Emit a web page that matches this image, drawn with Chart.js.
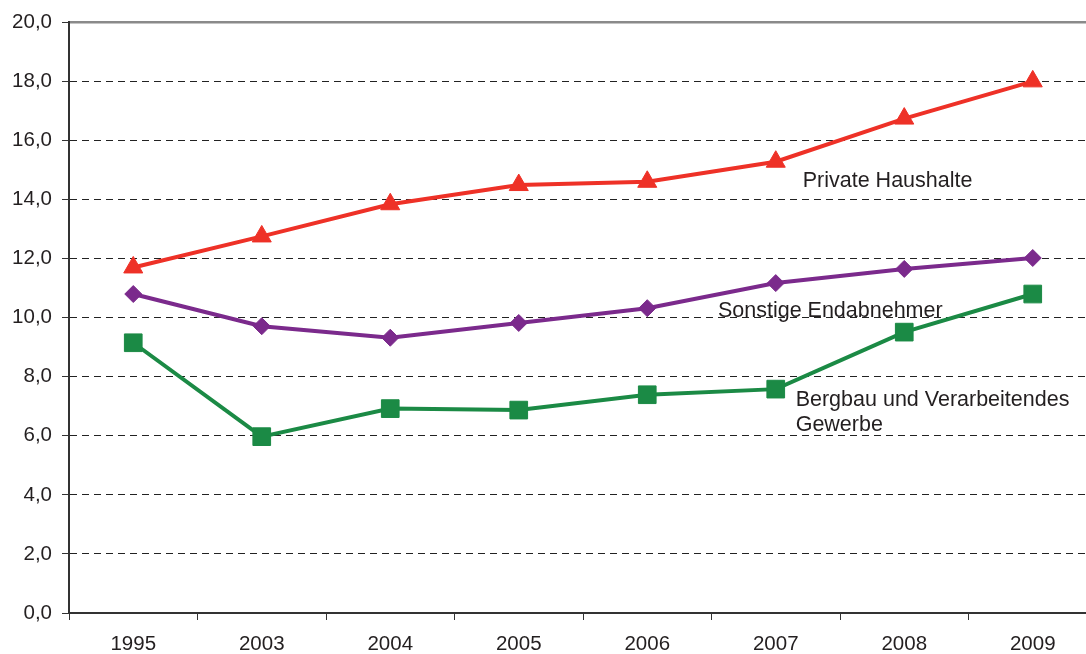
<!DOCTYPE html>
<html>
<head>
<meta charset="utf-8">
<script src="https://cdn.jsdelivr.net/npm/chart.js@4/dist/chart.umd.min.js"></script>
<style>
    html, body { margin: 0; padding: 0; background: #fff; overflow: hidden; }
    #chart { display: block; }
</style>
</head>
<body>
<canvas id="chart" width="1086" height="654"></canvas>
<script>
// data
const years = ["1995", "2003", "2004", "2005", "2006", "2007", "2008", "2009"];
const privateHaushalte = [11.7, 12.75, 13.84, 14.49, 14.6, 15.28, 16.74, 18.0];
const sonstigeEndabnehmer = [10.8, 9.71, 9.32, 9.82, 10.32, 11.17, 11.65, 12.02];
const bergbauGewerbe = [9.15, 5.97, 6.92, 6.87, 7.39, 7.58, 9.51, 10.8];
const yTicks = [0, 2, 4, 6, 8, 10, 12, 14, 16, 18, 20];

// inline series labels: [lines, category position, value at first baseline]
const seriesLabels = [
    { lines: ["Private Haushalte"], x: 5.21, y: 14.43 },
    { lines: ["Sonstige Endabnehmer"], x: 4.55, y: 10.02 },
    { lines: ["Bergbau und Verarbeitendes", "Gewerbe"], x: 5.155, y: 7.02 }
];

const FONT = "'Liberation Sans', Arial, sans-serif";
const TEXT = "#231f20";

// the plot area runs a little past the right edge of the picture
const extendRight = {
    id: "extendRight",
    afterLayout(chart) {
        const area = chart.chartArea;
        const right = chart.width + 11;
        area.right = right;
        area.width = right - area.left;
        ["x", "xTop"].forEach(id => {
            const s = chart.scales[id];
            s.right = right;
            s.width = right - s.left;
            s._gridLineItems = null;
            s._labelItems = null;
            s.configure();
        });
    }
};

const inlineLabels = {
    id: "inlineLabels",
    afterDatasetsDraw(chart) {
        const ctx = chart.ctx;
        const xs = chart.scales.x;
        const ys = chart.scales.y;
        ctx.save();
        ctx.font = "21.5px " + FONT;
        ctx.fillStyle = TEXT;
        ctx.textAlign = "left";
        ctx.textBaseline = "alphabetic";
        seriesLabels.forEach(l => {
            const px = xs.getPixelForValue(l.x);
            const py = ys.getPixelForValue(l.y);
            l.lines.forEach((t, i) => ctx.fillText(t, px, py + i * 25));
        });
        ctx.restore();
    }
};

function series(label, data, color, style, radius) {
    return {
        label: label,
        data: data,
        borderColor: color,
        backgroundColor: color,
        borderWidth: 4,
        pointStyle: style,
        pointRadius: radius,
        pointHoverRadius: radius,
        pointBackgroundColor: color,
        pointBorderColor: color,
        pointBorderWidth: 1,
        tension: 0
    };
}

new Chart(document.getElementById("chart"), {
    type: "line",
    data: {
        labels: years,
        datasets: [
            series("Bergbau und Verarbeitendes Gewerbe", bergbauGewerbe, "#1b8a45", "rect", 12.5),
            series("Sonstige Endabnehmer", sonstigeEndabnehmer, "#7b2a8c", "rectRot", 8.5),
            series("Private Haushalte", privateHaushalte, "#ee3127", "triangle", 11)
        ]
    },
    options: {
        responsive: false,
        animation: false,
        devicePixelRatio: 1,
        layout: { padding: { top: 20, left: 0, right: 0, bottom: 0 } },
        plugins: {
            legend: { display: false },
            tooltip: { enabled: false }
        },
        scales: {
            x: {
                type: "category",
                offset: true,
                grid: {
                    offset: true,
                    drawOnChartArea: false,
                    tickLength: 7,
                    tickColor: "#333",
                    tickWidth: 1
                },
                border: { color: "#333", width: 2 },
                ticks: {
                    padding: 12,
                    color: TEXT,
                    font: { family: FONT, size: 20.5 }
                },
                afterFit(scale) { scale.height = 41; }
            },
            xTop: {
                type: "category",
                position: "top",
                offset: true,
                grid: { drawOnChartArea: false, drawTicks: false },
                border: { color: "#8a8a8a", width: 2.5 },
                ticks: { display: false },
                afterFit(scale) { scale.height = 0; }
            },
            y: {
                min: 0,
                max: 20,
                afterBuildTicks(scale) {
                    scale.ticks = yTicks.map(v => ({ value: v }));
                },
                grid: {
                    color: ctx => (ctx.tick && (ctx.tick.value === 20 || ctx.tick.value === 0)) ? "rgba(0,0,0,0)" : "#222",
                    lineWidth: 1,
                    tickLength: 7,
                    tickColor: "#333",
                    tickWidth: 1,
                    tickBorderDash: []
                },
                border: { color: "#333", width: 2, dash: [7, 5] },
                ticks: {
                    padding: 10,
                    color: TEXT,
                    font: { family: FONT, size: 20.5 },
                    callback: v => v.toFixed(1).replace(".", ",")
                },
                afterFit(scale) { scale.width = 69; }
            }
        }
    },
    plugins: [extendRight, inlineLabels]
});
</script>
</body>
</html>
